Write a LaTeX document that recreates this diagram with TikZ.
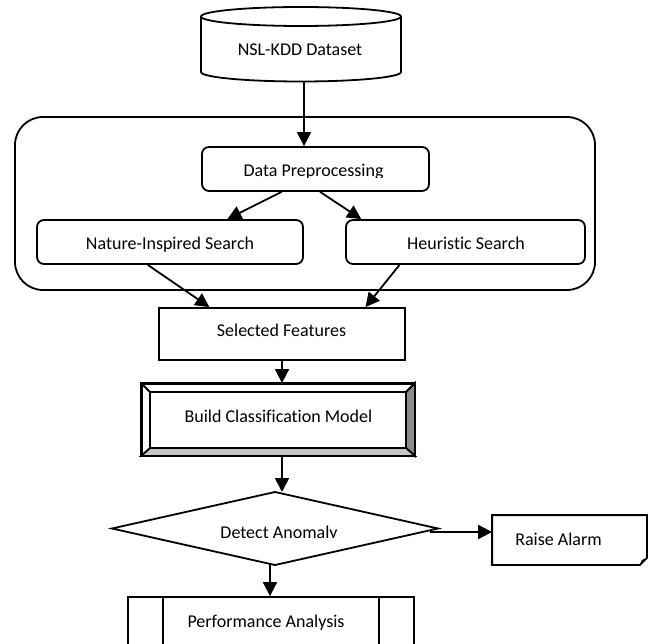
\documentclass[tikz,border=0pt]{standalone}
\usepackage{fontspec}
\setmainfont{Carlito}[Ligatures={NoCommon}]
\usetikzlibrary{arrows.meta,calc}
\begin{document}
\begin{tikzpicture}[x=1pt,y=-1pt,
  line width=1.8pt,
  lbl/.style={anchor=base, inner sep=0pt, font=\fontsize{18}{21}\selectfont},
  box/.style={draw, inner sep=0pt, fill=white},
  rbox/.style={box, rounded corners=7pt},
  bigbox/.style={box, rounded corners=28pt},
  arr/.style={-{Triangle[length=14pt,width=14pt]}},
  bevelR/.style={fill=black!45},
  bevelB/.style={fill=black!22},
]
\useasboundingbox (0,0) rectangle (648,644);
\clip (0,0) rectangle (648,644);

% ---- group container
\node[bigbox, minimum width=580pt, minimum height=173pt] (big) at (305,203.5) {};

% ---- cylinder (NSL-KDD Dataset)
\node[inner sep=0pt, minimum width=200pt, minimum height=74.5pt] (cyl) at (301,44.25) {};
\fill[white] (201,16.5) rectangle (401,72);
\fill[white] (301,72) ellipse [x radius=100pt, y radius=9.5pt];
\draw (201,16.5) -- (201,72) arc[start angle=180, end angle=360, x radius=100pt, y radius=9.5pt] -- (401,16.5);
\draw[fill=white] (301,16.5) ellipse [x radius=100pt, y radius=9.5pt];
\node[lbl] (cylt) at (300,56) {NSL-KDD Dataset};

% ---- inner boxes
\node[rbox, minimum width=227pt, minimum height=44pt] (dp) at (315.5,169) {};
\begin{scope}
  \clip (202,140) rectangle (429,178);
  \node[lbl] (dpt) at (313.5,177) {Data Preprocessing};
\end{scope}
\node[rbox, minimum width=266pt, minimum height=44pt] (nis) at (170,242) {};
\node[lbl] (nist) at (170,250) {Nature-Inspired Search};
\node[rbox, minimum width=239pt, minimum height=44pt] (hs) at (465.5,242) {};
\node[lbl] (hst) at (466,250) {Heuristic Search};

% ---- selected features
\node[box, minimum width=246pt, minimum height=52pt] (sf) at (282,334) {};
\node[lbl] (sft) at (281.5,337) {Selected Features};

% ---- build classification model (bevel)
\node[box, minimum width=272pt, minimum height=71pt] (bcm) at (278,419.5) {};
\coordinate (biNW) at ($(bcm.north west)+(9,9)$);
\coordinate (biNE) at ($(bcm.north east)+(-9,9)$);
\coordinate (biSE) at ($(bcm.south east)+(-9,-8)$);
\coordinate (biSW) at ($(bcm.south west)+(9,-8)$);
\draw[bevelR] (bcm.north east) -- (bcm.south east) -- (biSE) -- (biNE) -- cycle;
\draw[bevelB] (bcm.south west) -- (bcm.south east) -- (biSE) -- (biSW) -- cycle;
\draw (bcm.north west) -- (biNW);
\draw (bcm.north east) -- (biNE);
\draw (biNW) rectangle (biSE);
\draw (bcm.north west) rectangle (bcm.south east);
\node[lbl] (bcmt) at (278.5,422) {Build Classification Model};

% ---- decision diamond
\coordinate (dL) at (112,528.5);
\coordinate (dT) at (275,492);
\coordinate (dR) at (438,528.5);
\coordinate (dB) at (275,565);
\draw[fill=white] (dL) -- (dT) -- (dR) -- (dB) -- cycle;
\begin{scope}
  \clip (112,480) rectangle (438,537.5);
  \node[lbl] (dat) at (279,538) {Detect Anomaly};
\end{scope}

% ---- raise alarm (folded corner)
\node[inner sep=0pt, minimum width=153pt, minimum height=48pt] (ra) at (569.5,540) {};
\draw[fill=white] (ra.north west) -- (ra.north east) -- ($(ra.south east)+(0,-7)$)
  -- ($(ra.south east)+(-7,0)$) -- (ra.south west) -- cycle;
\fill ($(ra.south east)+(0,-7)$) -- ($(ra.south east)+(-7,0)$) -- ($(ra.south east)+(-5,-5)$) -- cycle;
\node[lbl] (rat) at (558.5,545) {Raise Alarm};

% ---- performance analysis (predefined process)
\node[box, minimum width=286pt, minimum height=73pt] (pa) at (271,633.5) {};
\draw ($(pa.north west)+(36,0)$) -- ($(pa.south west)+(36,0)$);
\draw ($(pa.north east)+(-36,0)$) -- ($(pa.south east)+(-36,0)$);
\node[lbl] (pat) at (266,627) {Performance Analysis};

% ---- connectors
\coordinate (c1) at ($(cyl.south)+(3,0)$);
\draw[arr] (c1) -- (c1 |- dp.north);
\draw[arr] ($(dp.south west)!0.352!(dp.south east)$) -- ($(nis.north west)!0.714!(nis.north east)$);
\draw[arr] ($(dp.south west)!0.52!(dp.south east)$) -- ($(hs.north west)!0.067!(hs.north east)$);
\draw[arr] ($(nis.south west)!0.417!(nis.south east)$) -- ($(sf.north west)!0.207!(sf.north east)$);
\draw[arr] ($(hs.south west)!0.226!(hs.south east)$) -- ($(sf.north west)!0.837!(sf.north east)$);
\draw[arr] (sf.south) -- (sf.south |- bcm.north);
\coordinate (c2) at ($(bcm.south)+(4,0)$);
\draw[arr] (c2) -- (c2 |- dT);
\coordinate (c3) at ($(ra.west)+(0,-8)$);
\draw[arr] ($(dR)+(-8,3.5)$) -- (c3);
\coordinate (c4) at ($(dB)+(-5,-1)$);
\draw[arr] (c4) -- (c4 |- pa.north);
\end{tikzpicture}
\end{document}
